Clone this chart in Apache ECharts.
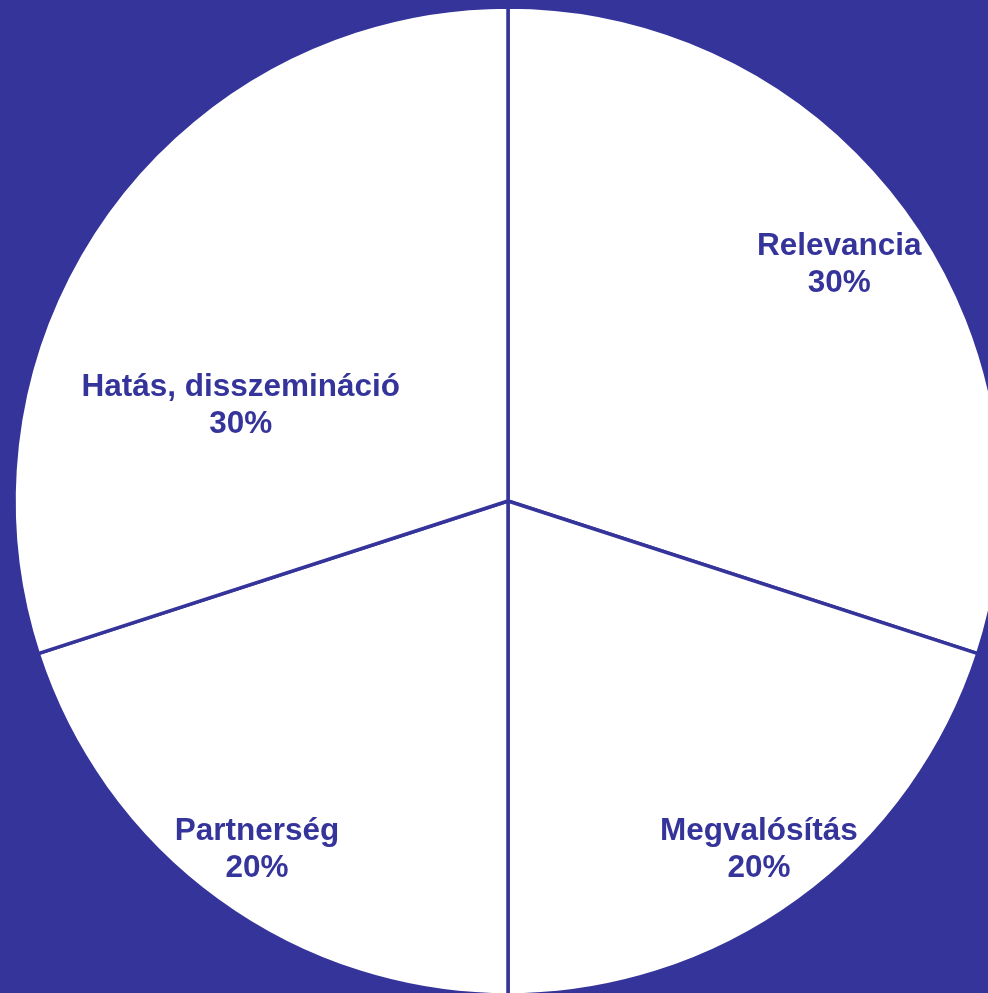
<!DOCTYPE html>
<html>
<head>
<meta charset="utf-8">
<script src="https://cdn.jsdelivr.net/npm/echarts@6/dist/echarts.min.js"></script>
<style>
html,body{margin:0;padding:0;background:#35349a;}
#c{width:988px;height:993px;}
</style>
</head>
<body>
<div id="c"></div>
<script>
const categories = ['Relevancia', 'Megvalósítás', 'Partnerség', 'Hatás, disszemináció'];
const values = [30, 20, 20, 30];
const labelOffsets = [[129, -89], [104, 147], [-104, 147], [-65, 52]];

const chart = echarts.init(document.getElementById('c'), null, {renderer: 'canvas'});
chart.setOption({
  backgroundColor: '#35349a',
  animation: false,
  series: [{
    type: 'pie',
    center: [508, 501],
    radius: [0, 494],
    startAngle: 90,
    clockwise: true,
    silent: true,
    itemStyle: {color: '#ffffff', borderColor: '#35349a', borderWidth: 3.5},
    label: {
      show: true,
      position: 'inside',
      formatter: p => p.name + '\n' + p.value + '%',
      color: '#35349a',
      fontFamily: 'Liberation Sans, Arial, sans-serif',
      fontWeight: 'bold',
      fontSize: 31.5,
      lineHeight: 37,
      align: 'center'
    },
    labelLine: {show: false},
    data: categories.map((n, i) => ({name: n, value: values[i], label: {offset: labelOffsets[i]}}))
  }]
});
</script>
</body>
</html>
